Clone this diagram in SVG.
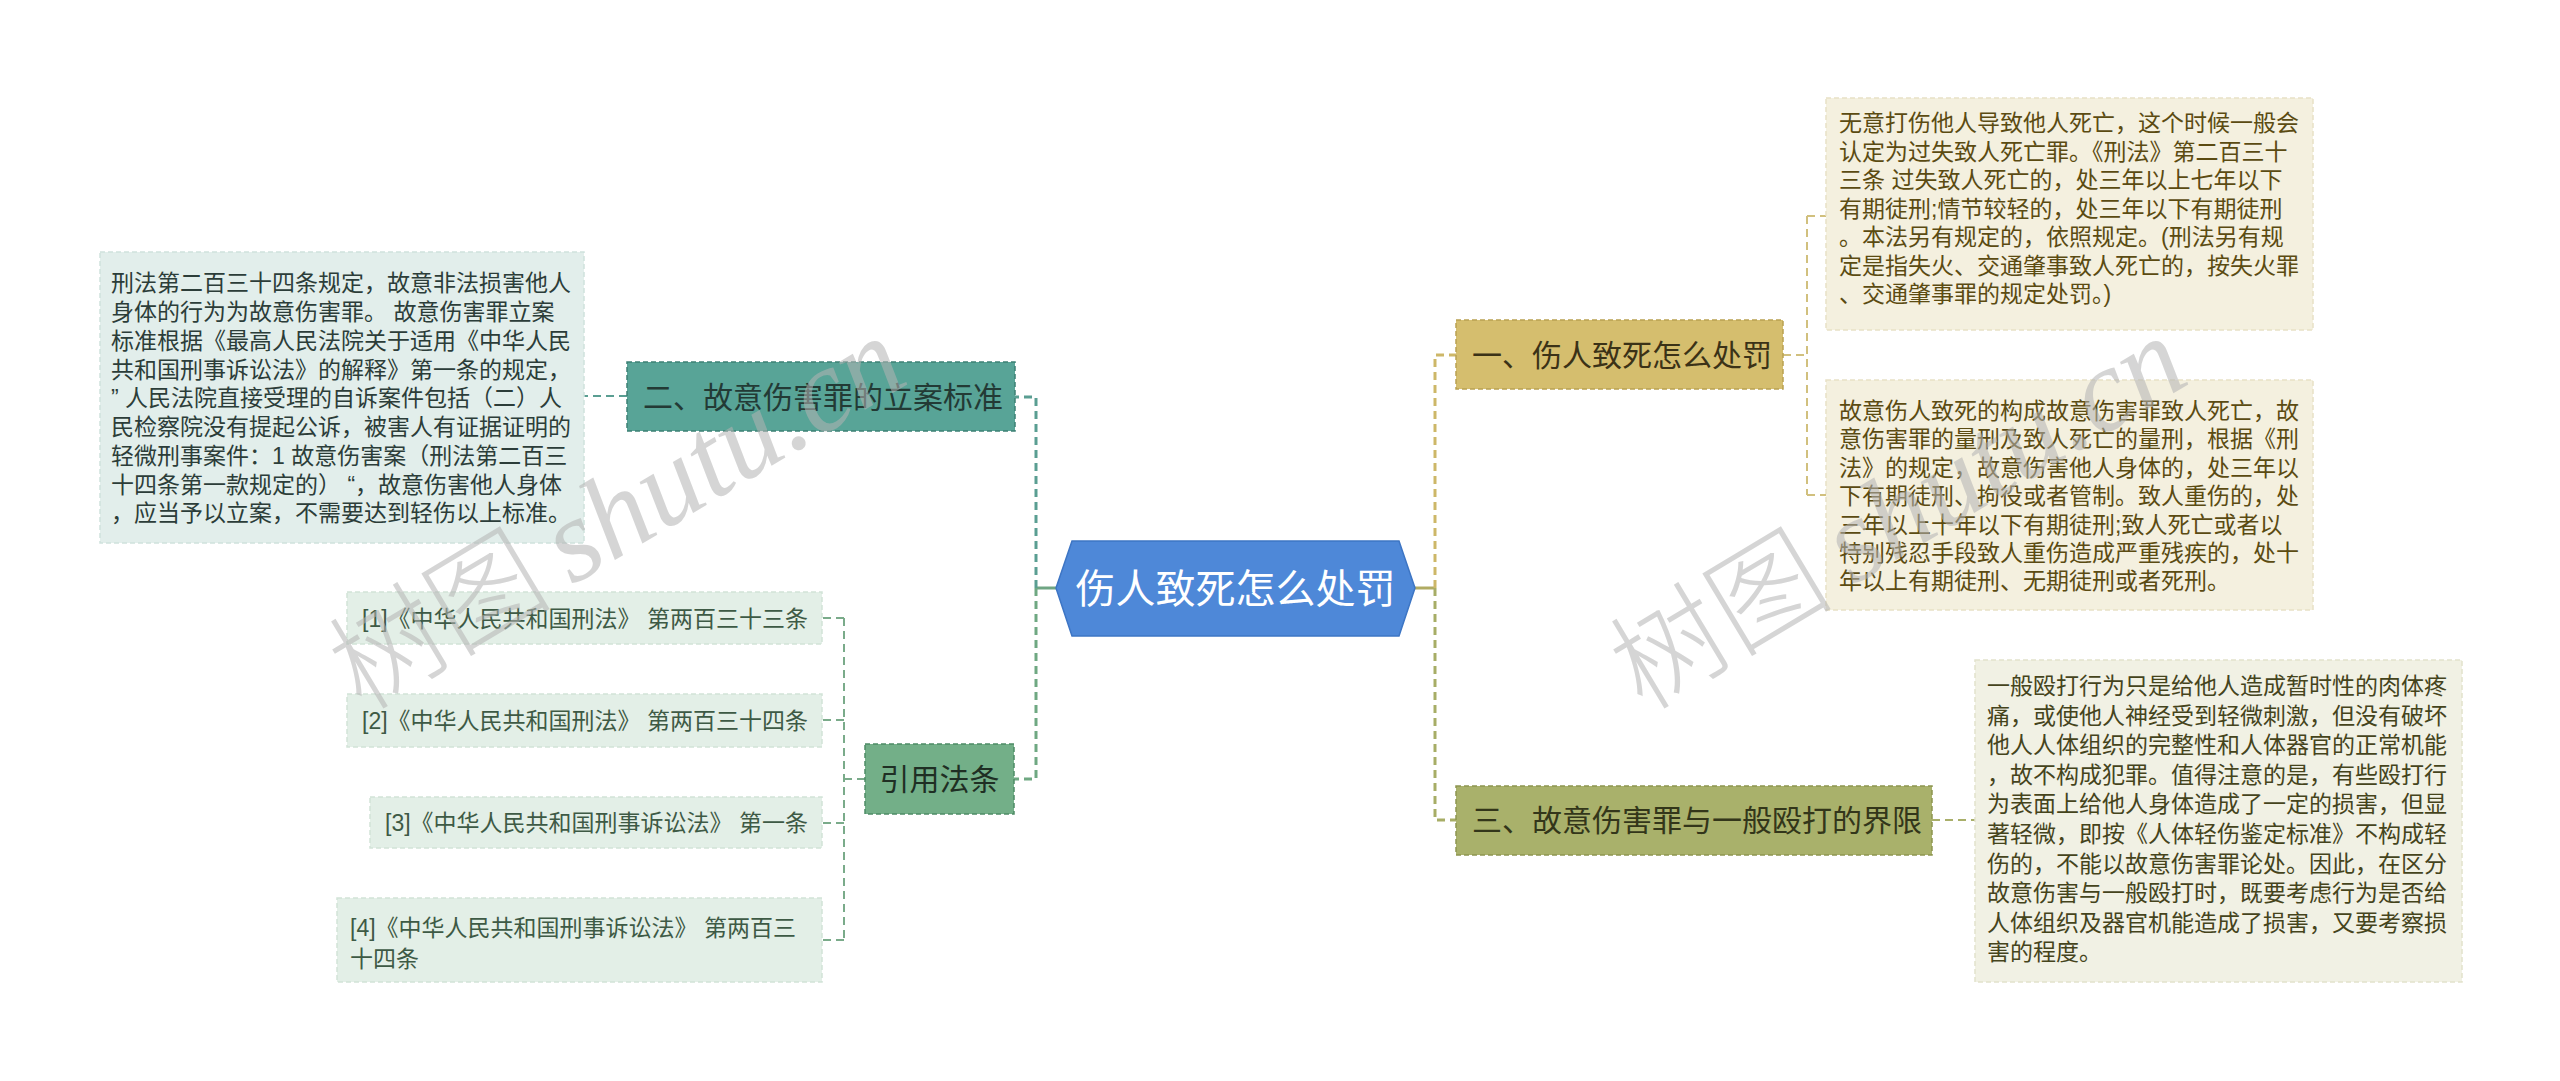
<svg xmlns="http://www.w3.org/2000/svg" width="2560" height="1081" viewBox="0 0 2560 1081">
<style>
text{font-family:"Liberation Sans","Noto Sans CJK SC",sans-serif}
.t23{font-size:23px}
.lead{fill:#2c3d39}
.lbox{fill:#E2EEEB;stroke:#cfe2dd;stroke-width:1.5;stroke-dasharray:5 3}
.leaf{fill:#E3EFE7;stroke:#d2e4d8;stroke-width:1.5;stroke-dasharray:5 3}
.leaft{fill:#3e5a45}
.ybox{fill:#F4F0DF;stroke:#e8e1c6;stroke-width:1.5;stroke-dasharray:5 3}
.yt{fill:#5b4b12}
.obox{fill:#F1F1E4;stroke:#e2e2cc;stroke-width:1.5;stroke-dasharray:5 3}
.ot{fill:#45441c}
.h30{font-size:30px}
.c{fill:none;stroke-linecap:butt}
.wm{fill:#b4b4b4;opacity:.55}
.wml{font-family:"Liberation Serif",serif;font-style:italic;font-size:118px}
.wmc{font-family:"Noto Sans CJK SC",sans-serif;font-size:112px;font-weight:300}
</style>
<g id="connectors">
<path class="c" d="M1036,588 H1056" stroke="#6fa583" stroke-width="3"/>
<path class="c" d="M1036,588 V397 H1015" stroke="#5a9e92" stroke-width="3" stroke-dasharray="8 5"/>
<path class="c" d="M1036,588 V779 H1014" stroke="#6fa882" stroke-width="3" stroke-dasharray="8 5"/>
<path class="c" d="M627,396 H584" stroke="#5a9e92" stroke-width="2" stroke-dasharray="8 5"/>
<path class="c" d="M865,779 H844 M844,618 V940 M844,618 H822 M844,720 H822 M844,823 H822 M844,940 H822" stroke="#7aab8a" stroke-width="2" stroke-dasharray="8 5"/>
<path class="c" d="M1415,588 H1435" stroke="#b0ab62" stroke-width="3"/>
<path class="c" d="M1435,588 V355 H1456" stroke="#cdb768" stroke-width="3" stroke-dasharray="8 5"/>
<path class="c" d="M1435,588 V820 H1456" stroke="#a7ad66" stroke-width="3" stroke-dasharray="8 5"/>
<path class="c" d="M1783,355 H1807 M1807,216 V495 M1807,216 H1826 M1807,495 H1826" stroke="#d1c07e" stroke-width="2" stroke-dasharray="8 5"/>
<path class="c" d="M1932,820 H1975" stroke="#a9af6a" stroke-width="2" stroke-dasharray="8 5"/>
</g>
<g id="root">
<polygon points="1056,588 1072,541 1399,541 1415,588 1399,636 1072,636" fill="#4E88D8" stroke="#3d75c4" stroke-width="1.5"/>
<text x="1235.5" y="603" font-size="40" fill="#ffffff" text-anchor="middle">伤人致死怎么处罚</text>
</g>
<g id="n2">
<rect x="627" y="362" width="388" height="69" fill="#58A497" stroke="#3d8074" stroke-width="1.5" stroke-dasharray="5 3"/>
<text class="h30" x="643" y="408" fill="#233a35">二、故意伤害罪的立案标准</text>
</g>
<g id="n2-leaf">
<rect class="lbox" x="100" y="252" width="484" height="291"/>
<text class="t23 lead">
<tspan x="111" y="291">刑法第二百三十四条规定，故意非法损害他人</tspan>
<tspan x="111" y="320">身体的行为为故意伤害罪。 故意伤害罪立案</tspan>
<tspan x="111" y="349">标准根据《最高人民法院关于适用《中华人民</tspan>
<tspan x="111" y="378">共和国刑事诉讼法》的解释》第一条的规定，</tspan>
<tspan x="111" y="406">” 人民法院直接受理的自诉案件包括（二）人</tspan>
<tspan x="111" y="435">民检察院没有提起公诉，被害人有证据证明的</tspan>
<tspan x="111" y="464">轻微刑事案件：1 故意伤害案（刑法第二百三</tspan>
<tspan x="111" y="493">十四条第一款规定的） “，故意伤害他人身体</tspan>
<tspan x="111" y="521">，应当予以立案，不需要达到轻伤以上标准。</tspan>
</text>
</g>
<g id="cite">
<rect x="865" y="744" width="149" height="70" fill="#73AF88" stroke="#4e8c65" stroke-width="1.5" stroke-dasharray="5 3"/>
<text class="h30" x="939.5" y="790" fill="#1f2f24" text-anchor="middle">引用法条</text>
</g>
<g id="cite1">
<rect class="leaf" x="347" y="592" width="475" height="52"/>
<text class="t23 leaft" x="362" y="627">[1]《中华人民共和国刑法》 第两百三十三条</text>
</g>
<g id="cite2">
<rect class="leaf" x="347" y="694" width="475" height="53"/>
<text class="t23 leaft" x="362" y="729">[2]《中华人民共和国刑法》 第两百三十四条</text>
</g>
<g id="cite3">
<rect class="leaf" x="370" y="797" width="452" height="51"/>
<text class="t23 leaft" x="385" y="831">[3]《中华人民共和国刑事诉讼法》 第一条</text>
</g>
<g id="cite4">
<rect class="leaf" x="337" y="898" width="485" height="84"/>
<text class="t23 leaft"><tspan x="350" y="936">[4]《中华人民共和国刑事诉讼法》 第两百三</tspan><tspan x="350" y="967">十四条</tspan></text>
</g>
<g id="n1">
<rect x="1456" y="320" width="327" height="69" fill="#D5BE6E" stroke="#b9a152" stroke-width="1.5" stroke-dasharray="5 3"/>
<text class="h30" x="1472" y="366" fill="#3b3217">一、伤人致死怎么处罚</text>
</g>
<g id="n1-leaf1">
<rect class="ybox" x="1826" y="98" width="487" height="232"/>
<text class="t23 yt">
<tspan x="1839" y="131">无意打伤他人导致他人死亡，这个时候一般会</tspan>
<tspan x="1839" y="159.5">认定为过失致人死亡罪。《刑法》第二百三十</tspan>
<tspan x="1839" y="188">三条 过失致人死亡的，处三年以上七年以下</tspan>
<tspan x="1839" y="216.5">有期徒刑;情节较轻的，处三年以下有期徒刑</tspan>
<tspan x="1839" y="245">。本法另有规定的，依照规定。(刑法另有规</tspan>
<tspan x="1839" y="273.5">定是指失火、交通肇事致人死亡的，按失火罪</tspan>
<tspan x="1839" y="302">、交通肇事罪的规定处罚。)</tspan>
</text>
</g>
<g id="n1-leaf2">
<rect class="ybox" x="1826" y="380" width="487" height="230"/>
<text class="t23 yt">
<tspan x="1839" y="419">故意伤人致死的构成故意伤害罪致人死亡，故</tspan>
<tspan x="1839" y="447.4">意伤害罪的量刑及致人死亡的量刑，根据《刑</tspan>
<tspan x="1839" y="475.8">法》的规定，故意伤害他人身体的，处三年以</tspan>
<tspan x="1839" y="504.2">下有期徒刑、拘役或者管制。致人重伤的，处</tspan>
<tspan x="1839" y="532.6">三年以上十年以下有期徒刑;致人死亡或者以</tspan>
<tspan x="1839" y="561">特别残忍手段致人重伤造成严重残疾的，处十</tspan>
<tspan x="1839" y="589.4">年以上有期徒刑、无期徒刑或者死刑。</tspan>
</text>
</g>
<g id="n3">
<rect x="1456" y="786" width="476" height="69" fill="#A9B16B" stroke="#8d9550" stroke-width="1.5" stroke-dasharray="5 3"/>
<text class="h30" x="1472" y="831" fill="#33361a">三、故意伤害罪与一般殴打的界限</text>
</g>
<g id="n3-leaf">
<rect class="obox" x="1975" y="660" width="487" height="322"/>
<text class="t23 ot">
<tspan x="1987" y="694">一般殴打行为只是给他人造成暂时性的肉体疼</tspan>
<tspan x="1987" y="723.6">痛，或使他人神经受到轻微刺激，但没有破坏</tspan>
<tspan x="1987" y="753.2">他人人体组织的完整性和人体器官的正常机能</tspan>
<tspan x="1987" y="782.8">，故不构成犯罪。值得注意的是，有些殴打行</tspan>
<tspan x="1987" y="812.4">为表面上给他人身体造成了一定的损害，但显</tspan>
<tspan x="1987" y="842">著轻微，即按《人体轻伤鉴定标准》不构成轻</tspan>
<tspan x="1987" y="871.6">伤的，不能以故意伤害罪论处。因此，在区分</tspan>
<tspan x="1987" y="901.2">故意伤害与一般殴打时，既要考虑行为是否给</tspan>
<tspan x="1987" y="930.8">人体组织及器官机能造成了损害，又要考察损</tspan>
<tspan x="1987" y="960.4">害的程度。</tspan>
</text>
</g>
<g id="watermark">
<g transform="translate(362,712) rotate(-31)"><text class="wm wmc" x="0" y="0">树图</text><text class="wm wml" x="245" y="0">shutu.cn</text></g>
<g transform="translate(1643,712) rotate(-31)"><text class="wm wmc" x="0" y="0">树图</text><text class="wm wml" x="245" y="0">shutu.cn</text></g>
</g>
</svg>
